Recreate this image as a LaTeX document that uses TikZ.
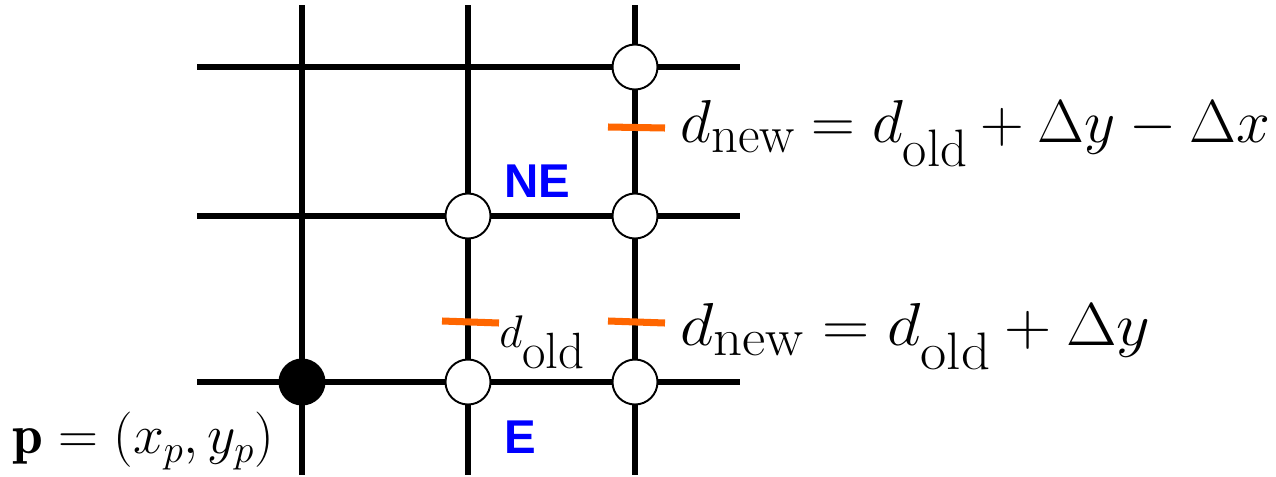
\RequirePackage{fix-cm}
\documentclass[tikz,border=0pt]{standalone}
\usepackage{fontspec}
\newfontfamily\hv{Liberation Sans}
\DeclareMathSizes{34.5}{34.5}{30}{20}
\DeclareMathSizes{26}{26}{29}{18}
\newcommand\dsub[2]{\mathord{\lower#1\hbox{$\scriptstyle\mathrm{#2}$}}}
\definecolor{tickor}{RGB}{255,102,0}
\definecolor{lblue}{RGB}{0,0,255}
\begin{document}
\begin{tikzpicture}[x=0.02cm,y=-0.02cm,
  gridline/.style={line width=2.9pt,black},
  pix/.style={circle,draw=black,line width=1.1pt,fill=white,minimum size=45*0.02cm,inner sep=0pt},
  pixfill/.style={pix,fill=black},
  tickmark/.style={line width=4pt,tickor},
  dirlbl/.style={font=\hv\bfseries\fontsize{27}{31}\selectfont,text=lblue},
  eqlbl/.style={font=\fontsize{34.5}{40}\selectfont,anchor=base west,inner sep=0pt}]
\useasboundingbox (0,0) rectangle (1276,477);
% grid coordinates
\coordinate (v1t) at (302,5); \coordinate (v1b) at (302,475);
\coordinate (v2t) at (468,5); \coordinate (v2b) at (468,475);
\coordinate (v3t) at (635,5); \coordinate (v3b) at (635,475);
\coordinate (h1l) at (197,67); \coordinate (h1r) at (740,67);
\coordinate (h2l) at (197,216); \coordinate (h2r) at (740,216);
\coordinate (h3l) at (197,382); \coordinate (h3r) at (740,382);
\draw[gridline] (v1t) -- (v1b);
\draw[gridline] (v2t) -- (v2b);
\draw[gridline] (v3t) -- (v3b);
\draw[gridline] (h1l) -- (h1r);
\draw[gridline] (h2l) -- (h2r);
\draw[gridline] (h3l) -- (h3r);
% pixels
\node[pixfill] (p) at (302,382) {};
\node[pix] (e) at (468,382) {};
\node[pix] (ee) at (635,382) {};
\node[pix] (ne) at (468,216) {};
\node[pix] (ene) at (635,216) {};
\node[pix] (top) at (635,67) {};
% midpoint ticks
\coordinate (t1a) at (608,127); \coordinate (t1b) at (665,128);
\coordinate (t2a) at (442,321); \coordinate (t2b) at (499,323);
\coordinate (t3a) at (608,321); \coordinate (t3b) at (665,323);
\draw[tickmark] (t1a) -- (t1b);
\draw[tickmark] (t2a) -- (t2b);
\draw[tickmark] (t3a) -- (t3b);
% labels
\node[dirlbl] (nel) at (537,181) {NE};
\node[dirlbl] (el) at (520,437) {E};
\node[font=\fontsize{26}{30}\selectfont,inner sep=0pt,anchor=base west] (dold) at (499,347) {$d\dsub{12pt}{old}$};
\node[eqlbl] (eq1) at (680,142) {$d\dsub{6pt}{new} = d\dsub{14pt}{old} + \Delta y - \Delta x$};
\node[eqlbl] (eq2) at (680,345) {\scalebox{1.08}[1]{$d\dsub{6pt}{new} = d\dsub{14pt}{old} + \Delta y$}};
\node[font=\fontsize{31.5}{37}\selectfont,inner sep=0pt] (pl) at (143,441) {$\mathbf{p} = (x_p, y_p)$};
\end{tikzpicture}
\end{document}
